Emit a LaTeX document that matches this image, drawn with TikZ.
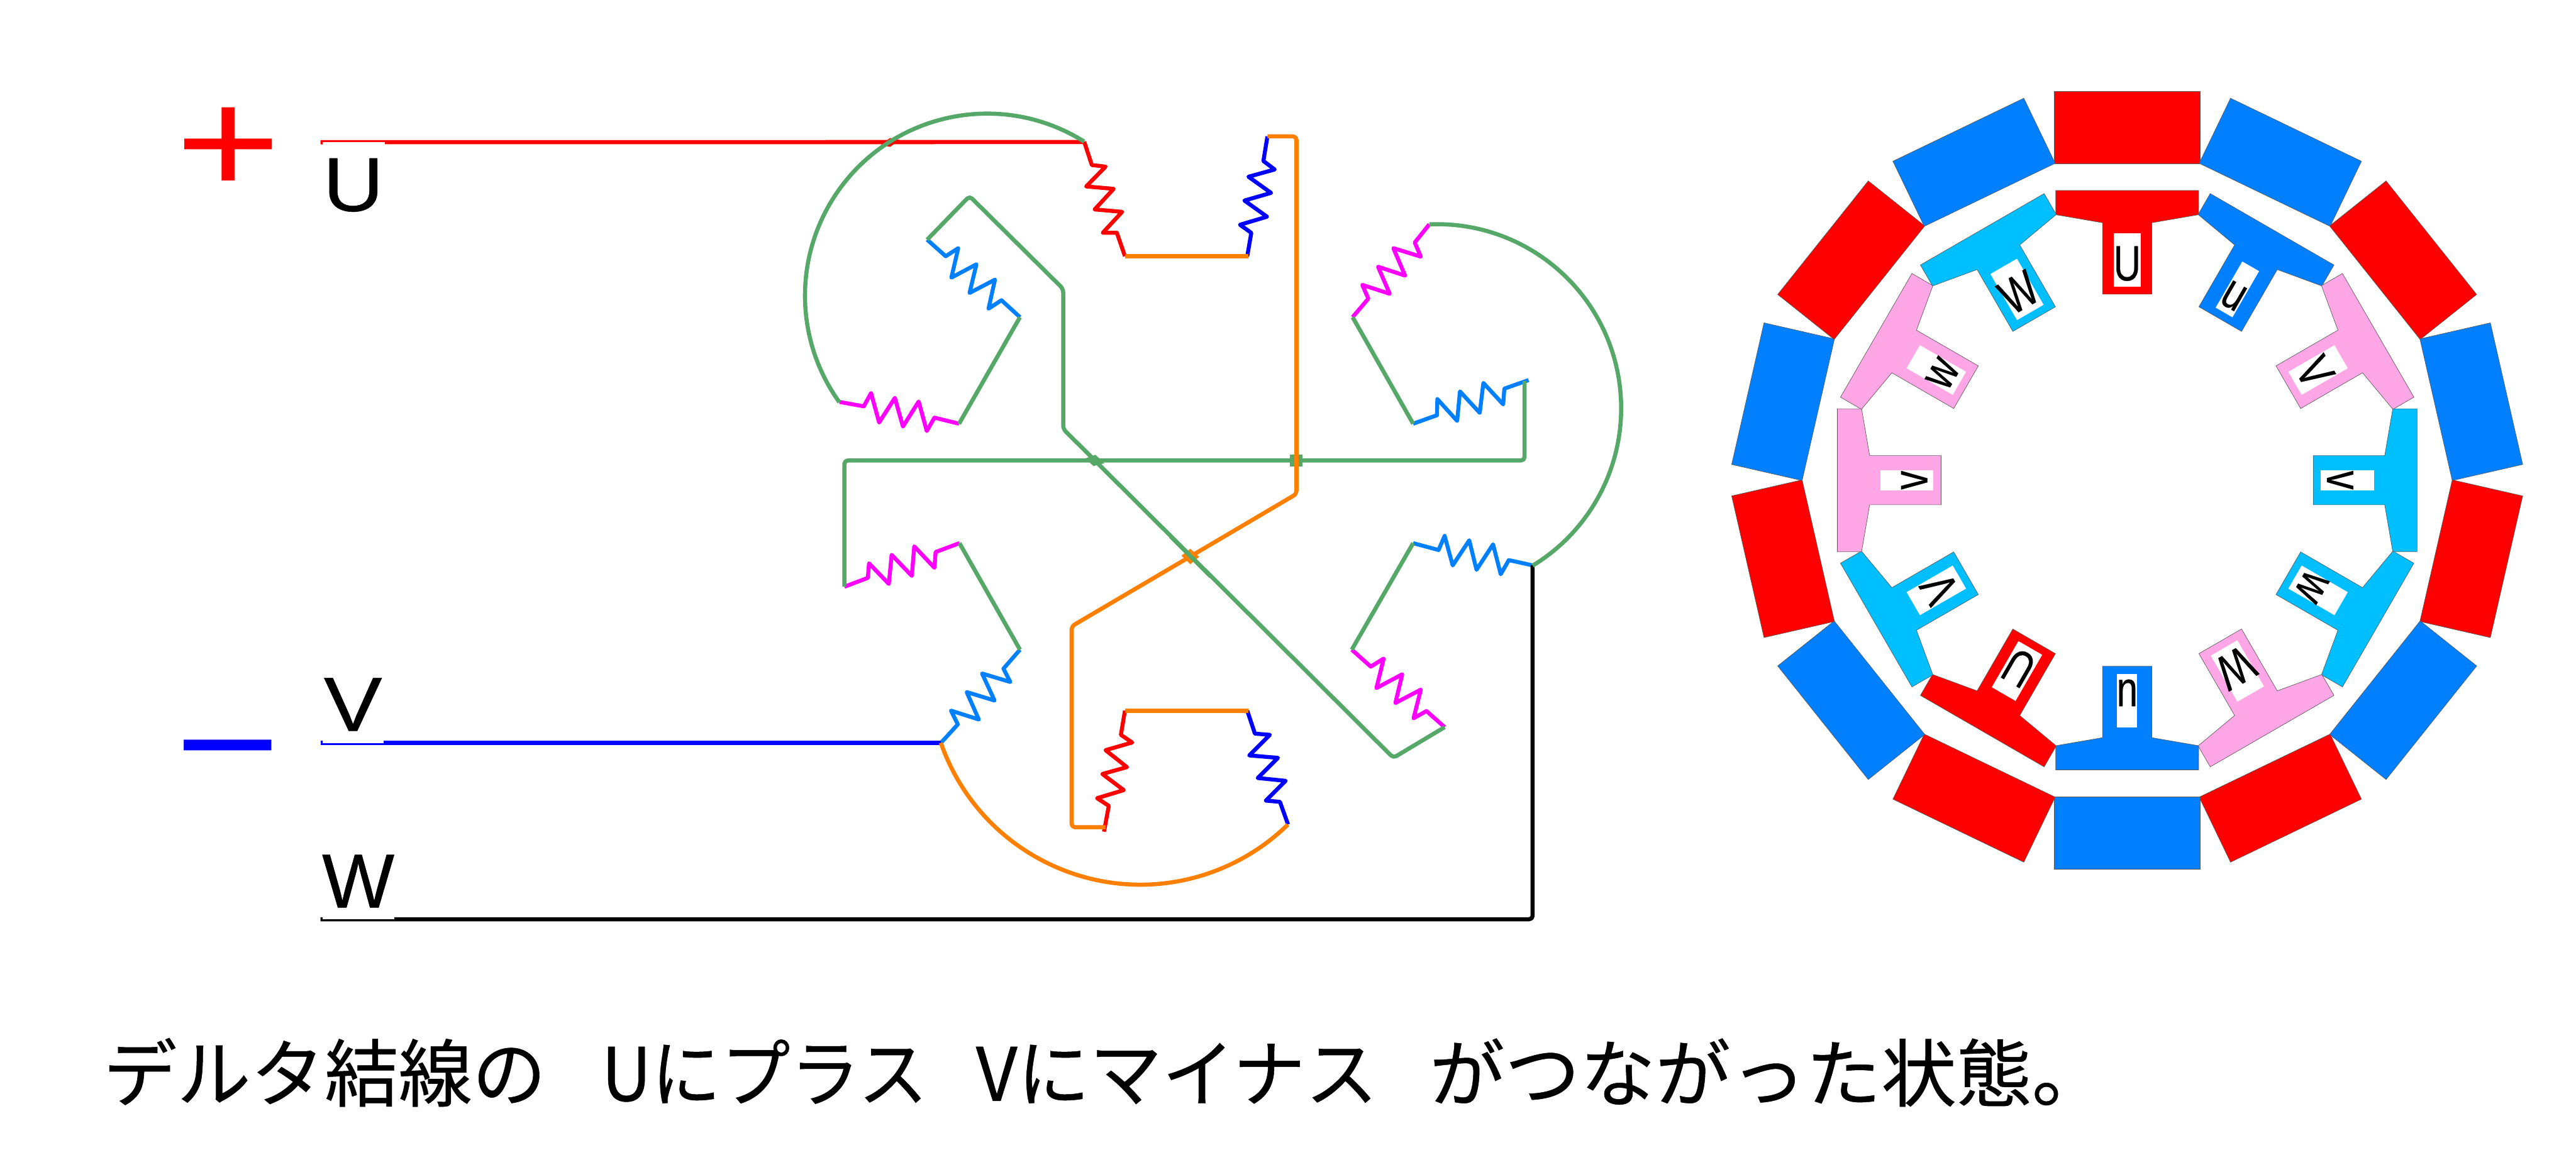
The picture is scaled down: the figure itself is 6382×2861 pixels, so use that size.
\documentclass[tikz,border=0pt]{standalone}
\usepackage{fontspec}
\usepackage{graphicx}
\setmainfont{Liberation Sans}
\newfontfamily\jpfont[FakeBold=0.4]{Noto Sans CJK JP}
\newfontfamily\heavyfont[FakeBold=0.4]{Liberation Sans}
\definecolor{wgreen}{HTML}{55A868}
\definecolor{worange}{HTML}{FF8000}
\definecolor{wazure}{HTML}{0080FF}
\definecolor{wsky}{HTML}{00BFFF}
\definecolor{wpink}{HTML}{FFA6E6}
\definecolor{wmag}{HTML}{FF00FF}
\definecolor{wred}{HTML}{FF0000}
\definecolor{wblue}{HTML}{0000FF}
\tikzset{
  wire/.style={line width=2.9pt,line join=round,rounded corners=2.4pt},
  coil/.style={line width=2.8pt,line join=round},
  shapeedge/.style={draw=black!65,line width=0.3pt},
  capletter/.style={font=\heavyfont\fontsize{54}{54}\selectfont,inner sep=0pt,anchor=base},
  pole/.style={font=\fontsize{127}{127}\selectfont,inner sep=0pt,anchor=base},
  slotletter/.style={font=\heavyfont\fontsize{35}{35}\selectfont,inner sep=0pt,anchor=base,transform shape},
}
\begin{document}
\begin{tikzpicture}[x=0.01cm,y=-0.01cm]
\useasboundingbox (0,0) rectangle (6382,2861);
% terminals
\coordinate (Ua) at (794,352.5); \coordinate (Ub) at (2686,352);
\coordinate (Va) at (794,1841);  \coordinate (Vb) at (2331,1841);
\coordinate (Wa) at (794,2278);  \coordinate (Wc) at (3797,2278); \coordinate (Wb) at (3797,1401);
\coordinate (arcA) at (2686,351); \coordinate (arcB) at (3541,556); \coordinate (arcC) at (2331,1841);
% coils
\draw[coil,wred] (2686,351)--(2705,409)--(2739,413)--(2691,462)--(2759,468)--(2712,519)--(2780,525)--(2732,577)--(2767,577)--(2787,635);
\draw[coil,wblue] (3090,635)--(3100,577)--(3072,557)--(3139,537)--(3083,497)--(3149,478)--(3093,438)--(3158,420)--(3130,399)--(3140,338);
\draw[coil,wred] (2787,1761)--(2777,1821)--(2805,1840)--(2739,1859)--(2792,1901)--(2731,1918)--(2784,1958)--(2718,1978)--(2747,1997)--(2735,2061);
\draw[coil,wblue] (3090,1761)--(3109,1818)--(3146,1821)--(3095,1872)--(3166,1878)--(3116,1928)--(3185,1935)--(3136,1984)--(3171,1987)--(3191,2043);
\draw[coil,wazure] (2297,594)--(2343,635)--(2374,615)--(2357,688)--(2419,655)--(2402,726)--(2465,693)--(2449,765)--(2481,744)--(2527,786);
\draw[coil,wmag] (2080,996)--(2140,1007)--(2158,974)--(2178,1047)--(2217,986)--(2237,1057)--(2276,995)--(2296,1068)--(2315,1035)--(2376,1050);
\draw[coil,wazure] (3501,1050)--(3560,1029)--(3561,989)--(3610,1043)--(3617,970)--(3666,1023)--(3675,949)--(3724,1002)--(3727,963)--(3787,942);
\draw[coil,wmag] (3351,786)--(3390,740)--(3375,706)--(3443,728)--(3414,661)--(3481,683)--(3452,615)--(3520,636)--(3505,601)--(3541,556);
\draw[coil,wmag] (2092,1454)--(2150,1432)--(2153,1396)--(2202,1447)--(2209,1375)--(2259,1427)--(2265,1354)--(2315,1407)--(2318,1368)--(2377,1346);
\draw[coil,wazure] (2527,1610)--(2486,1657)--(2503,1690)--(2433,1669)--(2464,1736)--(2395,1715)--(2425,1783)--(2356,1761)--(2373,1795)--(2331,1841);
\draw[coil,wazure] (3501,1346)--(3564,1363)--(3579,1328)--(3599,1401)--(3640,1339)--(3658,1412)--(3699,1349)--(3718,1423)--(3738,1388)--(3797,1401);
\draw[coil,wmag] (3349,1610)--(3396,1652)--(3428,1632)--(3410,1705)--(3474,1671)--(3457,1742)--(3520,1709)--(3502,1780)--(3534,1762)--(3579,1802);
% supply lines
\draw[wire,wred] (Ua)--(Ub);
\fill[wred] (2182,359)--(2205,342)--(2229,347)--(2205,364)--cycle;
\draw[wire,wblue] (Va)--(Vb);
\draw[wire,black] (Wa)--(Wc)--(Wb);
\fill[white] (799,352.7) rectangle (953,359);
\fill[white] (799,1834) rectangle (950,1841);
\fill[white] (799,2271) rectangle (977,2278);
% crossing marks under the wires
\fill[worange] (2927,1377)--(2949,1360)--(2971,1380)--(2949,1398)--cycle;
\fill[wgreen] (3196,1126) rectangle (3227,1156);
\fill[wgreen] (2689,1136)--(2714,1127)--(2736,1148)--(2709,1155)--cycle;
% green wires
\draw[wire,wgreen] (2092,1454)--(2092,1141)--(3777,1141)--(3777,944);
\draw[wire,wgreen] (2297,594)--(2402,486)--(2634,716)--(2634,1063)--(3452,1878)--(3579,1802);
\draw[wire,wgreen] (2527,786)--(2376,1050);
\draw[wire,wgreen] (3351,786)--(3501,1050);
\draw[wire,wgreen] (2377,1346)--(2527,1610);
\draw[wire,wgreen] (3501,1346)--(3349,1610);
\draw[wire,wgreen] (arcA) arc[start angle=57.8,end angle=215.8,radius=4.51cm];
\draw[wire,wgreen] (arcB) arc[start angle=92.4,end angle=-58.7,radius=4.56cm];
% orange wires
\draw[wire,worange] (2787,635)--(3093,635);
\draw[wire,worange] (2787,1761)--(3093,1761);
\draw[wire,worange] (3140,338)--(3212,338)--(3212,1224)--(2949,1379);
\draw[wire,worange] (2949,1379)--(2655,1552)--(2655,2050)--(2739,2050);
\draw[wire,wgreen] (2900,1329)--(3000,1429);
\draw[wire,worange] (arcC) arc[start angle=199.2,end angle=314.3,radius=5.23cm];
% left labels
\node[pole,text=wred] (plus) at (566,480) {\scalebox{1}[.83]{+}};
\node[pole,text=wblue] (minus) at (565,1970) {\scalebox{1}[.83]{−}};
\node[capletter] (lU) at (875.5,523) {\scalebox{1.1}[1]{U}};
\node[capletter] (lV) at (874.5,1811) {\scalebox{1.14}[1]{V}};
\node[capletter] (lW) at (887.5,2249) {W};
% outer magnets
\foreach \k/\c in {0/wred,1/wazure,2/wred,3/wazure,4/wred,5/wazure,6/wred,7/wazure,8/wred,9/wazure,10/wred,11/wazure,12/wred,13/wazure}{
  \begin{scope}[shift={(5270,1190)},rotate=-25.7143*\k]
    \filldraw[fill=\c,shapeedge] (-180,-964) rectangle (180,-785);
  \end{scope}
}
% teeth
\foreach \k/\c/\hw/\t in {0/wred/34/U,1/wazure/24/u,2/wpink/33/V,3/wsky/25/v,4/wsky/33/w,5/wpink/38/W,6/wazure/25/u,7/wred/34/U,8/wsky/33/V,9/wpink/25/v,10/wpink/33/w,11/wsky/38/W}{
  \begin{scope}[shift={(5270,1190)},rotate=-30*\k]
    \filldraw[fill=\c,shapeedge] (-177,-718)--(177,-718)--(177,-658)--(61,-638)--(61,-461)--(-61,-461)--(-61,-638)--(-177,-658)--cycle;
    \fill[white] (-\hw,-612) rectangle (\hw,-480);
    \node[slotletter] (slot\k) at (0,-495) {\scalebox{.76}[1]{\t}};
  \end{scope}
}
% caption
\node[inner sep=0pt,anchor=base west,font=\jpfont\fontsize{52}{52}\selectfont] (caption) at (255,2728)
  {デルタ結線の\hspace{39pt}\scalebox{.94}[1]{Uにプラス}\hspace{34pt}\scalebox{.98}[1]{Vにマイナス}\hspace{36.5pt}\scalebox{1.02}[1]{がつながった状態。}};
\end{tikzpicture}
\end{document}
